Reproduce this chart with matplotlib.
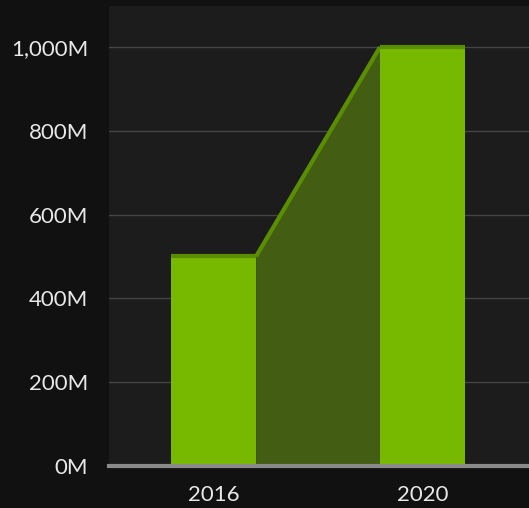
import matplotlib.pyplot as plt
import matplotlib.ticker as ticker

# donnees
annees = ['2016', '2020']
valeurs = [500, 1000]          # en millions
graduations = [0, 200, 400, 600, 800, 1000]

# couleurs
fond_fig = '#111111'
fond_axe = '#1c1c1c'
vert = '#76b900'
vert_fonce = '#5a8e00'
vert_aire = '#435e12'

plt.rcParams['font.family'] = ['Lato', 'DejaVu Sans']

fig = plt.figure(figsize=(5.29, 5.08), dpi=100, facecolor=fond_fig)
ax = fig.add_axes([0.206, 0.083, 0.794, 0.905])
ax.set_facecolor(fond_axe)

pos = list(range(len(annees)))
larg = 0.407

# aire entre les deux barres
x_aire = [pos[0] + larg / 2, pos[1] - larg / 2]
y_aire = [valeurs[0], valeurs[1]]
ax.fill_between(x_aire, 0, y_aire, color=vert_aire, zorder=2, linewidth=0.5, edgecolor=vert_aire)
ax.plot(x_aire, y_aire, color=vert_fonce, linewidth=3, zorder=3, solid_capstyle='butt')

# barres
ax.bar(pos, valeurs, width=larg, color=vert, zorder=3, linewidth=0)
for p, v in zip(pos, valeurs):
    ax.plot([p - larg / 2, p + larg / 2], [v, v], color=vert_fonce, linewidth=3,
            zorder=4, solid_capstyle='butt')

# axe de base
ax.axhline(0, color='#8a8a8a', linewidth=3, zorder=5, clip_on=False)

ax.set_xlim(-0.5, 1.51)
ax.set_ylim(0, 1098)
ax.set_xticks(pos)
ax.set_xticklabels(annees)
ax.set_yticks(graduations)
ax.yaxis.set_major_formatter(ticker.FuncFormatter(lambda v, _: '{:,.0f}M'.format(v)))
ax.grid(axis='y', color='#444444', linewidth=1, zorder=1)
ax.tick_params(length=0, colors='#e8e8e8', labelsize=16)
ax.tick_params(axis='y', pad=15)
ax.tick_params(axis='x', pad=14)
for s in ax.spines.values():
    s.set_visible(False)

fig.savefig('out.png', dpi=100, facecolor=fond_fig)
